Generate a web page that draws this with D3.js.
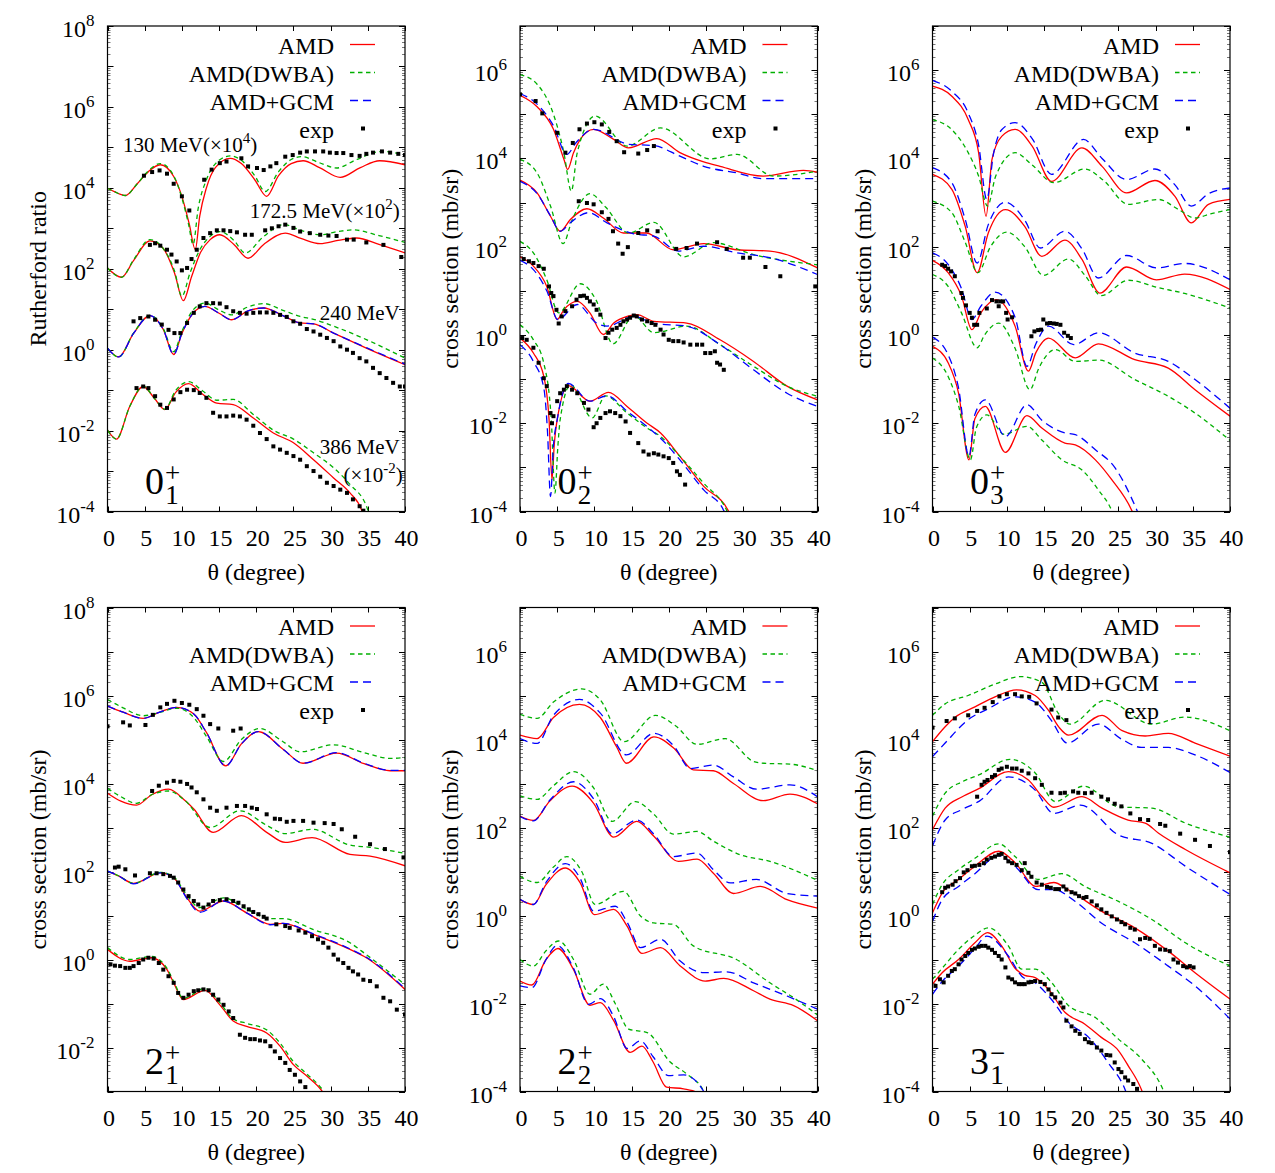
<!DOCTYPE html>
<html lang="en">
<head>
<meta charset="UTF-8">
<title>Inelastic cross sections</title>
<style>
  body, html { margin: 0; padding: 0; background: #fff; }
  svg { display: block; }
  text { font-family: 'Liberation Serif', 'Times New Roman', serif; fill: #000; }
</style>
</head>
<body>
<div id="chart"></div>
<script src="https://d3js.org/d3.v7.min.js"></script>
<script>
// all values are [theta (deg), log10(value)]; sets a..d go top to bottom

// ---- 0_1^+ (Rutherford ratio) ----
const p01_a_amd = [[0,3.99],[1,3.9],[2.4,3.81],[4,4.1],[5.5,4.4],[7.1,4.57],[8.9,4.28],[10,3.79],[11,3.1],[11.8,2.47],[12.4,3.3],[13.3,4.0],[14.5,4.5],[16.5,4.73],[18,4.6],[19.8,4.2],[21.4,3.79],[23,4.3],[24.7,4.6],[26.3,4.67],[28.5,4.5],[31.3,4.26],[34,4.5],[36.6,4.67],[40,4.57]];
const p01_a_dwba = [[0,3.99],[1,3.9],[2.4,3.81],[4,4.1],[5.5,4.42],[7.1,4.6],[8.9,4.3],[10,3.75],[10.9,3.1],[11.5,2.6],[12.2,3.5],[13.3,4.2],[15,4.68],[16.5,4.79],[18,4.68],[19.8,4.3],[21.2,3.91],[23,4.4],[24.7,4.7],[26.1,4.77],[28.5,4.62],[30.8,4.49],[33.5,4.7],[36.9,4.9],[40,4.81]];
const p01_a_exp = [[4.9,4.30],[6.0,4.39],[7.0,4.43],[8.0,4.35],[8.9,4.10],[10.0,3.79],[11.0,3.44],[13.0,4.2],[14.0,4.45],[15.1,4.61],[16.0,4.65],[18.0,4.73],[18.9,4.53],[20.1,4.49],[21.0,4.44],[21.9,4.53],[22.7,4.61],[23.9,4.77],[24.9,4.81],[25.9,4.87],[26.8,4.90],[27.9,4.90],[29.0,4.90],[29.9,4.87],[30.8,4.86],[31.7,4.86],[32.8,4.81],[33.9,4.79],[34.8,4.84],[35.7,4.87],[36.9,4.90],[38.0,4.87],[39.1,4.84],[40,4.81]];

const p01_b_amd = [[0,2.02],[1.9,1.79],[3.5,2.2],[5.7,2.69],[7.5,2.5],[9,1.9],[10.2,1.21],[11.3,1.8],[12.5,2.4],[13.8,2.72],[15.1,2.84],[17,2.6],[18.9,2.26],[21,2.6],[23.9,2.88],[26,2.75],[28.6,2.62],[31,2.7],[33.5,2.76],[36.5,2.6],[40,2.39]];
const p01_b_dwba = [[0,2.02],[1.9,1.79],[3.5,2.22],[5.7,2.72],[7.5,2.5],[9,1.95],[10,1.32],[11.1,1.9],[12.5,2.5],[13.8,2.8],[15.1,2.92],[17,2.7],[18.5,2.39],[21,2.8],[23.7,3.09],[26,2.95],[28.6,2.84],[31,2.92],[33,2.96],[36.5,2.82],[40,2.65]];
const p01_b_exp = [[5.7,2.59],[6.4,2.63],[7.1,2.57],[8.0,2.47],[8.6,2.35],[9.3,2.18],[10.0,1.96],[10.7,2.02],[11.3,2.24],[12.0,2.47],[12.9,2.76],[13.8,2.88],[14.7,2.95],[15.6,2.95],[16.5,2.93],[17.4,2.90],[18.5,2.84],[19.4,2.84],[21.2,2.95],[22.1,3.0],[23.0,3.05],[23.9,3.09],[25.0,3.01],[25.9,2.92],[27.2,2.88],[28.6,2.84],[29.7,2.82],[30.8,2.81],[32.2,2.72],[33.1,2.72],[34.8,2.65],[37.1,2.59],[39.5,2.29]];

const p01_c_amd = [[0,0.04],[1.5,-0.18],[3.5,0.4],[5.7,0.84],[7.5,0.5],[8.9,-0.12],[10,0.4],[11.5,0.9],[13.1,1.07],[15,0.9],[16.7,0.74],[18.8,0.95],[21,1.03],[23.5,0.85],[25.9,0.66],[27.7,0.64],[30.4,0.41],[34.8,0.04],[40,-0.37]];
const p01_c_dwba = [[0,0.04],[1.5,-0.18],[3.5,0.41],[5.7,0.85],[7.5,0.52],[8.9,-0.05],[10,0.45],[11.5,0.98],[13.1,1.15],[15,0.98],[16.7,0.86],[18.8,1.05],[21,1.14],[23.5,0.98],[25.9,0.82],[27.7,0.75],[30.4,0.58],[34.8,0.25],[40,-0.21]];
const p01_c_gcm = [[0,0.04],[1.5,-0.18],[3.5,0.4],[5.7,0.84],[7.5,0.5],[8.9,-0.12],[10,0.4],[11.5,0.9],[13.1,1.07],[15,0.9],[16.7,0.74],[18.8,0.95],[21,1.03],[23.5,0.85],[25.9,0.66],[27.7,0.64],[30.4,0.41],[34.8,0.05],[40,-0.36]];
const p01_c_exp = [[3.5,0.70],[4.4,0.78],[5.5,0.82],[6.4,0.74],[7.3,0.62],[8.2,0.49],[9.0,0.41],[9.8,0.41],[10.7,0.66],[11.6,0.91],[12.4,1.07],[13.3,1.15],[14.2,1.15],[15.1,1.14],[16.0,1.05],[16.9,0.95],[17.8,0.91],[18.7,0.89],[19.6,0.91],[20.5,0.92],[21.4,0.92],[22.3,0.91],[23.2,0.86],[24.1,0.81],[25.0,0.70],[25.9,0.64],[26.8,0.51],[27.7,0.45],[28.6,0.37],[29.5,0.29],[30.4,0.21],[31.3,0.08],[32.2,0.0],[33.0,-0.08],[33.9,-0.21],[34.8,-0.29],[35.7,-0.45],[36.6,-0.58],[37.5,-0.70],[38.4,-0.82],[39.3,-0.91],[40,-0.91]];

const p01_d_amd = [[0,-1.99],[1.2,-2.21],[3,-1.4],[4.8,-0.91],[6.3,-1.2],[7.7,-1.48],[9.2,-1.05],[10.9,-0.84],[12.8,-1.1],[14.7,-1.32],[16.9,-1.36],[19.6,-1.69],[22.3,-2.06],[25.0,-2.30],[27.7,-2.72],[30.4,-3.17],[32.6,-3.54],[34.2,-3.98],[35,-4.5]];
const p01_d_dwba = [[0,-1.99],[1.2,-2.21],[3,-1.4],[4.8,-0.90],[6.3,-1.2],[7.7,-1.47],[9.2,-1.0],[10.9,-0.79],[12.8,-1.02],[14.7,-1.25],[16.9,-1.23],[19.6,-1.6],[22.3,-1.99],[25.0,-2.21],[27.7,-2.55],[30.4,-2.92],[32.6,-3.33],[34.9,-3.91],[35.8,-4.5]];
const p01_d_exp = [[3.9,-0.95],[4.8,-0.91],[5.5,-0.95],[6.4,-1.15],[7.1,-1.36],[8.0,-1.44],[8.9,-1.23],[9.8,-1.05],[10.7,-0.99],[11.6,-1.0],[12.4,-1.07],[13.3,-1.19],[14.2,-1.56],[15.1,-1.65],[16.0,-1.65],[16.9,-1.63],[17.8,-1.65],[18.7,-1.73],[19.6,-1.88],[20.5,-2.06],[21.4,-2.21],[22.3,-2.39],[23.2,-2.47],[24.1,-2.55],[25.0,-2.63],[25.9,-2.72],[26.8,-2.88],[27.7,-3.0],[28.6,-3.14],[29.5,-3.29],[30.4,-3.37],[31.3,-3.46],[32.2,-3.54],[33.0,-3.70],[33.9,-3.87],[34.4,-3.98]];

// ---- 0_2^+ ----
const p02_a_amd = [[0,5.43],[2.3,5.17],[4.5,4.66],[5.9,3.98],[6.4,3.75],[7.2,4.13],[8.1,4.43],[9.9,4.66],[12.6,4.43],[14.6,4.24],[18.4,4.45],[21.5,4.13],[24.7,3.92],[26.9,3.82],[32.7,3.60],[38.1,3.73],[40,3.69]];
const p02_a_dwba = [[0,5.90],[2.3,5.68],[4.5,5.0],[5.9,4.13],[6.9,3.26],[7.7,4.13],[10.1,4.96],[14.4,4.28],[18.9,4.69],[25.6,3.99],[29.2,4.09],[34.1,3.60],[40,3.71]];
const p02_a_gcm = [[0,5.47],[2.3,5.23],[4.5,4.74],[6.3,4.09],[7.5,4.35],[9.9,4.66],[14.6,4.32],[18.0,4.29],[21.5,4.05],[24.7,3.82],[29.2,3.67],[32.7,3.54],[40,3.54]];
const p02_a_exp = [[0,5.45],[2.1,5.30],[3.0,5.02],[5.0,4.58],[6.1,4.13],[7.1,4.35],[8.0,4.66],[9.0,4.79],[10.0,4.82],[11.0,4.77],[12.0,4.60],[13.0,4.39],[14.0,4.14],[15.9,4.11],[17.1,4.19],[18.0,4.28]];

const p02_b_amd = [[0,3.51],[2.3,3.22],[4.1,2.69],[5.4,2.35],[6.8,2.62],[9.0,2.86],[11.2,2.65],[13.9,2.31],[17.0,2.31],[20.6,1.93],[24.7,2.07],[29.2,1.93],[33.6,1.90],[40,1.52]];
const p02_b_dwba = [[0,3.98],[2.3,3.67],[4.1,2.92],[5.8,2.07],[7.0,2.6],[9.4,3.20],[11.5,2.9],[14.6,2.31],[18.0,2.55],[22.0,1.77],[26.0,2.09],[31.4,1.82],[40,1.59]];
const p02_b_gcm = [[0,3.48],[2.3,3.2],[4.1,2.7],[5.4,2.35],[6.8,2.55],[9.2,2.77],[11.7,2.54],[15.3,2.29],[18.0,2.24],[21.3,1.90],[24.7,2.01],[29.2,1.86],[33.6,1.75],[40,1.37]];
const p02_b_exp = [[7.9,3.03],[9.0,2.99],[9.9,2.96],[11.0,2.78],[11.9,2.63],[12.5,2.35],[13.2,2.07],[13.8,1.84],[14.5,1.99],[15.9,2.31],[17.1,2.37],[18.5,2.35],[21.0,1.95],[22.4,1.97],[23.8,2.07],[26.5,2.10],[27.8,1.95],[30.0,1.75],[30.9,1.75],[33.0,1.54],[35.0,1.33],[39.7,1.10]];

const p02_c_amd = [[0,1.77],[1.8,1.56],[3.6,1.10],[5.0,0.35],[5.9,0.57],[7.7,0.76],[9.4,0.50],[11.2,0.01],[12.6,0.27],[14.4,0.42],[15.7,0.46],[18.0,0.31],[22.4,0.27],[26.9,-0.11],[31.4,-0.60],[35.9,-1.16],[40,-1.47]];
const p02_c_dwba = [[0,2.12],[1.8,1.86],[3.6,1.25],[5.2,0.50],[8.1,1.16],[10.2,0.80],[12.5,-0.20],[15.3,0.44],[18.0,0.05],[22.4,0.20],[26.9,-0.22],[31.4,-0.71],[35.9,-1.16],[40,-1.39]];
const p02_c_gcm = [[0,1.69],[1.8,1.48],[3.6,1.0],[5.1,0.35],[7.7,0.69],[10.3,0.27],[11.7,0.20],[15.3,0.42],[18.0,0.26],[22.4,0.20],[26.9,-0.22],[31.4,-0.79],[35.9,-1.32],[40,-1.62]];
const p02_c_exp = [[0.5,1.72],[1.2,1.67],[1.8,1.63],[2.5,1.56],[3.2,1.50],[3.9,1.10],[4.2,0.95],[4.5,0.88],[4.9,0.57],[5.2,0.26],[5.6,0.42],[6.1,0.54],[7.0,0.65],[7.6,0.80],[8.1,0.88],[8.6,0.89],[9.0,0.84],[9.4,0.76],[9.9,0.69],[10.3,0.57],[10.8,0.46],[11.5,-0.07],[11.9,0.05],[12.4,0.12],[13.0,0.16],[13.5,0.23],[13.9,0.31],[14.4,0.35],[14.8,0.39],[15.3,0.44],[15.7,0.42],[16.4,0.35],[17.1,0.31],[17.7,0.27],[18.2,0.23],[18.9,0.12],[19.3,0.01],[20.0,-0.11],[20.6,-0.14],[21.3,-0.14],[22.0,-0.17],[22.9,-0.22],[23.8,-0.22],[24.5,-0.22],[24.9,-0.41],[25.6,-0.41],[26.2,-0.37],[26.5,-0.63],[26.9,-0.67],[27.4,-0.79]];

const p02_d_amd = [[0,-0.07],[1.8,-0.41],[3.2,-0.94],[3.9,-1.9],[4.3,-3.28],[4.6,-2.5],[5.0,-1.92],[6.5,-1.15],[9.4,-1.50],[11.9,-1.30],[14.4,-1.62],[17.1,-2.00],[18.9,-2.22],[21.5,-2.75],[24.7,-3.43],[28.0,-3.98],[29,-4.4]];
const p02_d_dwba = [[0,0.23],[1.8,-0.11],[3.2,-0.64],[4.2,-1.9],[4.7,-3.58],[5.1,-2.5],[5.4,-1.92],[6.8,-1.13],[9.7,-1.88],[11.5,-1.38],[14.4,-1.77],[17.1,-2.11],[18.9,-2.30],[21.5,-2.75],[24.7,-3.36],[27.8,-3.98],[28.8,-4.4]];
const p02_d_gcm = [[0,-0.22],[1.8,-0.60],[3.2,-1.2],[3.7,-2.2],[4.1,-3.66],[4.5,-2.5],[5.0,-1.92],[6.5,-1.10],[9.4,-1.50],[11.7,-1.38],[14.4,-1.73],[17.1,-2.08],[18.9,-2.34],[21.5,-2.83],[24.7,-3.51],[27.4,-3.98],[28.4,-4.4]];
const p02_d_exp = [[0.3,-0.07],[0.9,-0.11],[1.8,-0.29],[2.5,-0.63],[3.2,-0.98],[3.6,-1.16],[4.1,-1.77],[4.3,-2.0],[4.5,-1.84],[5.0,-1.50],[5.4,-1.32],[5.9,-1.24],[6.3,-1.16],[7.0,-1.24],[7.7,-1.32],[8.6,-1.54],[9.2,-1.69],[9.9,-2.09],[10.3,-2.0],[10.8,-1.88],[11.5,-1.77],[12.1,-1.73],[12.8,-1.77],[13.5,-1.84],[14.2,-1.96],[14.8,-2.22],[15.9,-2.45],[16.6,-2.64],[17.3,-2.71],[18.0,-2.68],[18.6,-2.71],[19.3,-2.75],[20.0,-2.79],[20.6,-2.90],[21.1,-3.09],[21.5,-3.17],[22.2,-3.39]];

// ---- 0_3^+ ----
const p03_a_amd = [[0,5.64],[2.6,5.41],[4.8,4.88],[6.2,4.13],[7.2,2.69],[8.0,3.98],[9.3,4.50],[11.1,4.66],[13.4,4.28],[16.0,3.48],[20.1,4.24],[22.8,3.82],[26.1,3.22],[29.9,3.50],[32.6,3.14],[34.8,2.54],[37.1,2.96],[40,3.07]];
const p03_a_dwba = [[0,4.88],[2.6,4.65],[4.8,4.13],[6.2,3.6],[7.4,2.92],[8.5,3.6],[11.1,4.13],[13.4,3.85],[16.3,3.45],[20.5,3.76],[23,3.5],[26.3,2.96],[30.4,3.07],[33,2.85],[35.3,2.65],[37.5,2.75],[40,2.84]];
const p03_a_gcm = [[0,5.77],[2.6,5.52],[4.8,5.03],[6.2,4.3],[7.3,3.07],[8.2,4.1],[9.3,4.65],[11.1,4.81],[13.4,4.45],[16.0,3.64],[20.3,4.43],[22.8,4.0],[26.1,3.52],[29.9,3.76],[32.6,3.4],[34.8,2.92],[37.1,3.2],[40,3.33]];

const p03_b_amd = [[0,3.64],[2.6,3.30],[4.4,2.46],[6.0,1.41],[7.5,2.31],[9.8,2.84],[12.4,2.46],[14.7,1.78],[17.8,2.15],[20.1,1.71],[22.5,0.95],[26.1,1.54],[30.1,1.25],[33.9,1.38],[40,1.03]];
const p03_b_dwba = [[0,3.03],[2.6,2.77],[4.4,2.1],[6.1,1.41],[7.8,2.0],[10.0,2.33],[12.4,2.0],[14.9,1.35],[18.3,1.72],[20.5,1.35],[22.7,0.89],[26.3,1.24],[30.4,1.07],[33.9,0.94],[40,0.61]];
const p03_b_gcm = [[0,3.79],[2.6,3.45],[4.4,2.62],[6.0,1.63],[7.5,2.5],[9.8,3.01],[12.4,2.6],[14.5,1.97],[17.8,2.35],[20.1,1.95],[22.3,1.29],[26.1,1.80],[30.1,1.52],[33.9,1.62],[40,1.25]];

const p03_c_amd = [[0,1.69],[2.1,1.41],[3.9,0.88],[5.3,0.12],[6.5,0.5],[8.6,0.80],[11.1,0.2],[12.9,-0.82],[13.9,-0.4],[15.6,-0.07],[19.2,-0.52],[22.3,-0.20],[27.2,-0.56],[31.7,-0.75],[35.3,-1.24],[40,-1.84]];
const p03_c_dwba = [[0,1.37],[2.1,1.1],[3.9,0.5],[6.0,-0.29],[7.0,0.0],[8.9,0.27],[11.1,-0.3],[13.1,-1.24],[14.3,-0.75],[16.5,-0.33],[19.2,-0.6],[22.3,-0.57],[27.2,-1.01],[31.7,-1.39],[35.3,-1.77],[40,-2.39]];
const p03_c_gcm = [[0,1.86],[2.1,1.6],[3.9,1.05],[5.3,0.35],[6.5,0.65],[8.4,0.97],[11.1,0.4],[12.7,-0.71],[13.9,-0.2],[15.6,0.20],[19.0,-0.22],[22.3,0.05],[27.2,-0.41],[31.7,-0.60],[35.3,-1.01],[40,-1.66]];
const p03_c_exp = [[1.3,1.59],[1.7,1.56],[2.1,1.50],[2.5,1.44],[3.0,1.33],[3.9,0.95],[4.1,0.84],[4.5,0.67],[5.0,0.50],[5.3,0.39],[5.6,0.23],[6.0,0.23],[6.3,0.50],[7.3,0.60],[8.0,0.79],[8.6,0.76],[8.9,0.65],[9.1,0.76],[9.5,0.76],[9.9,0.50],[10.1,0.35],[10.7,0.40],[13.3,-0.03],[13.7,0.08],[14.2,0.11],[14.6,0.12],[14.9,0.35],[15.4,0.26],[15.8,0.27],[16.3,0.26],[16.7,0.25],[17.2,0.23],[17.7,0.05],[18.2,-0.02],[18.6,-0.07]];

const p03_d_amd = [[0,-0.26],[2.1,-0.63],[3.5,-1.32],[4.9,-2.83],[5.7,-1.9],[7.1,-1.62],[9.8,-2.66],[12.7,-1.83],[14.7,-2.11],[17.8,-2.45],[19.2,-2.49],[21.9,-2.83],[24.1,-3.28],[26.8,-3.98],[27.8,-4.4]];
const p03_d_dwba = [[0,-0.52],[2.1,-0.94],[3.5,-1.6],[5.1,-2.83],[5.9,-2.1],[7.3,-1.81],[9.6,-2.25],[12.7,-2.07],[14.7,-2.38],[17.4,-2.83],[20.1,-3.06],[22.3,-3.51],[24.1,-3.98],[25,-4.4]];
const p03_d_gcm = [[0,-0.05],[2.1,-0.45],[3.5,-1.2],[4.9,-2.75],[5.7,-1.8],[7.1,-1.47],[9.8,-2.30],[12.7,-1.58],[14.7,-1.93],[17.8,-2.22],[19.2,-2.26],[21.9,-2.6],[24.5,-3.0],[27.5,-3.98],[28.5,-4.4]];

// ---- 2_1^+ ----
const p21_a_amd = [[0,5.76],[2.1,5.62],[4.8,5.48],[7.1,5.63],[9.3,5.73],[11.6,5.58],[13.3,5.16],[15.9,4.40],[18.0,4.9],[20.3,5.18],[23.6,4.78],[26.3,4.46],[30.8,4.69],[34.5,4.45],[38.0,4.29],[40,4.29]];
const p21_a_dwba = [[0,5.91],[2.1,5.72],[4.8,5.54],[7.1,5.62],[9.3,5.71],[11.6,5.5],[13.3,5.07],[15.6,4.50],[18.0,5.0],[20.5,5.25],[23.6,4.95],[25.9,4.72],[30.4,4.88],[34.5,4.7],[38.0,4.57],[40,4.59]];
const p21_a_gcm = [[0,5.76],[2.1,5.62],[4.8,5.48],[7.1,5.63],[9.3,5.73],[11.6,5.58],[13.3,5.16],[15.9,4.40],[18.0,4.9],[20.3,5.18],[23.6,4.78],[26.3,4.46],[30.8,4.70],[34.5,4.46],[38.0,4.30],[40,4.30]];
const p21_a_exp = [[0,5.30],[2.1,5.39],[3.0,5.32],[5.1,5.33],[6.1,5.56],[7.1,5.73],[8.0,5.81],[9.0,5.88],[10.0,5.83],[11.0,5.79],[12.0,5.69],[12.9,5.54],[13.8,5.35],[14.9,5.25],[16.9,5.20],[17.9,5.25]];

const p21_b_amd = [[0,3.78],[1.8,3.6],[3.9,3.51],[6,3.75],[8.2,3.87],[10.5,3.6],[11.6,3.42],[14.2,2.89],[18.0,3.27],[21.4,2.89],[23.9,2.66],[27.5,2.77],[32.6,2.39],[35.3,2.35],[40,2.13]];
const p21_b_dwba = [[0,3.89],[1.8,3.7],[3.9,3.55],[6,3.75],[8.2,3.83],[10.5,3.6],[13.8,3.00],[17.8,3.38],[21.4,3.05],[23.9,2.86],[27.5,2.96],[32.6,2.60],[35.3,2.55],[40,2.41]];
const p21_b_exp = [[6.0,3.83],[6.9,3.95],[8.0,4.02],[8.9,4.06],[9.8,4.04],[10.7,3.99],[11.3,3.91],[12.0,3.80],[12.9,3.64],[13.8,3.45],[14.7,3.38],[16.0,3.45],[17.4,3.49],[18.5,3.49],[19.4,3.45],[20.1,3.42],[21.4,3.30],[22.5,3.20],[23.2,3.19],[24.1,3.13],[25.0,3.15],[26.3,3.15],[27.7,3.11],[29.2,3.10],[30.4,3.08],[31.5,2.96],[33.3,2.79],[35.3,2.62],[37.3,2.51],[39.8,2.32]];

const p21_c_amd = [[0,2.01],[1.5,1.9],[3.5,1.73],[7.1,1.97],[8.9,1.86],[10.7,1.4],[12.4,1.10],[15.6,1.33],[18.7,1.06],[21.9,0.80],[23.6,0.82],[27.7,0.57],[32.6,0.23],[34.8,0.04],[40,-0.68]];
const p21_c_dwba = [[0,2.01],[1.5,1.9],[3.5,1.73],[7.1,1.98],[8.9,1.88],[10.7,1.45],[12.4,1.18],[15.6,1.40],[18.7,1.14],[21.9,0.93],[23.6,0.93],[27.7,0.68],[32.6,0.38],[34.8,0.11],[40,-0.57]];
const p21_c_gcm = [[0,2.01],[1.5,1.9],[3.5,1.72],[7.1,1.97],[8.9,1.86],[10.7,1.38],[12.4,1.07],[15.6,1.33],[18.7,1.06],[21.9,0.79],[23.6,0.82],[27.7,0.58],[32.6,0.24],[34.8,0.05],[40,-0.66]];
const p21_c_exp = [[1.0,2.09],[1.5,2.11],[2.4,2.05],[3.7,1.91],[5.7,1.96],[6.6,1.96],[7.5,1.94],[8.4,1.90],[8.9,1.86],[9.5,1.75],[10.2,1.59],[10.9,1.44],[11.6,1.33],[12.2,1.25],[12.9,1.18],[13.6,1.25],[14.2,1.33],[15.1,1.35],[16.0,1.37],[16.9,1.33],[17.6,1.29],[18.3,1.21],[19.0,1.14],[19.6,1.08],[20.3,1.03],[21.0,0.97],[21.4,0.93],[22.7,0.80],[23.9,0.76],[24.5,0.72],[25.7,0.66],[26.6,0.61],[27.5,0.53],[28.3,0.46],[29.0,0.38],[29.7,0.27],[30.4,0.11],[31.0,0.0],[31.7,-0.08],[32.4,-0.19],[33.0,-0.27],[33.7,-0.34],[34.4,-0.46],[35.3,-0.49],[36.2,-0.61],[37.1,-0.87],[38.0,-0.95],[38.9,-1.14],[40,-1.25]];

const p21_d_amd = [[0,0.23],[3.0,-0.04],[5.9,0.04],[8.0,-0.23],[8.9,-0.53],[10.2,-0.91],[13.1,-0.70],[15.1,-1.03],[16.9,-1.40],[18.7,-1.52],[21.4,-1.67],[23.2,-1.97],[25.0,-2.39],[26.8,-2.65],[28.8,-2.98],[30,-3.3]];
const p21_d_dwba = [[0,0.27],[3.0,0.0],[5.9,0.07],[8.0,-0.2],[8.9,-0.5],[10.2,-0.88],[13.1,-0.66],[15.1,-0.98],[16.9,-1.35],[18.7,-1.45],[21.4,-1.60],[23.2,-1.90],[25.0,-2.32],[26.8,-2.6],[29.0,-2.98],[30.2,-3.3]];
const p21_d_exp = [[0.4,-0.11],[1.0,-0.14],[1.7,-0.15],[2.4,-0.19],[3.0,-0.19],[3.5,-0.15],[4.2,-0.08],[4.8,0.0],[5.5,0.04],[6.2,0.02],[6.9,-0.08],[7.5,-0.23],[8.2,-0.38],[8.9,-0.53],[9.5,-0.76],[10.2,-0.87],[10.9,-0.80],[11.6,-0.72],[12.2,-0.70],[12.9,-0.68],[13.6,-0.70],[14.2,-0.80],[14.9,-0.91],[15.6,-1.03],[16.3,-1.18],[16.9,-1.33],[17.8,-1.71],[18.5,-1.78],[19.2,-1.81],[19.8,-1.81],[20.5,-1.84],[21.2,-1.86],[21.9,-1.97],[22.5,-2.09],[23.2,-2.24],[23.9,-2.35],[24.5,-2.51],[25.2,-2.62],[25.9,-2.77],[26.6,-2.90]];

// ---- 2_2^+ (no data) ----
const p22_a_amd = [[0,4.10],[2.3,4.02],[4.5,4.5],[8.0,4.80],[10.8,4.5],[13.0,3.83],[14.3,3.46],[18.0,4.06],[20.7,3.8],[23.3,3.31],[26.0,3.29],[28.7,3.0],[32.7,2.61],[36.3,2.76],[40,2.54]];
const p22_a_dwba = [[0,4.57],[2.3,4.48],[4.5,4.85],[8.3,5.15],[10.8,4.9],[14.0,3.95],[18.2,4.55],[21.0,4.3],[23.8,3.89],[27.6,4.02],[31.4,3.5],[32.8,3.46],[36.3,3.44],[40,3.29]];
const p22_a_gcm = [[0,4.02],[2.3,3.91],[4.5,4.55],[8.0,4.91],[10.8,4.6],[14.3,3.65],[18.0,4.14],[20.7,3.85],[22.9,3.34],[26.0,3.42],[28.7,3.15],[31.8,2.87],[36.3,2.97],[40,2.70]];

const p22_b_amd = [[0,2.26],[1.8,2.16],[4.0,2.6],[7.0,2.94],[9.9,2.55],[12.6,1.78],[15.7,2.14],[18.0,1.8],[21.3,1.23],[23.8,1.28],[26.0,0.96],[28.7,0.50],[32.3,0.66],[35.9,0.36],[40,0.17]];
const p22_b_dwba = [[0,2.72],[2.3,2.64],[4.5,2.95],[7.2,3.27],[9.9,2.9],[12.4,2.14],[15.5,2.59],[18.0,2.3],[20.6,1.85],[23.8,1.91],[26.0,1.69],[29.6,1.38],[33.6,1.23],[40,0.80]];
const p22_b_gcm = [[0,2.25],[1.8,2.15],[4.0,2.62],[7.2,3.04],[9.9,2.65],[12.4,1.86],[15.7,2.17],[18.0,1.85],[20.6,1.34],[23.8,1.42],[26.0,1.04],[28.3,0.74],[31.8,0.82],[35.9,0.50],[40,0.44]];

const p22_c_amd = [[0,0.36],[1.8,0.25],[3.5,0.7],[6.1,1.08],[8.1,0.74],[10.0,0.02],[12.6,0.14],[14.4,-0.24],[16.4,-0.86],[18.9,-0.73],[21.5,-1.14],[24.9,-1.49],[27.4,-1.43],[31.4,-1.71],[33.6,-1.90],[36.8,-2.05],[40,-2.39]];
const p22_c_dwba = [[0,0.89],[2.3,0.75],[4.5,1.1],[6.3,1.34],[8.3,1.0],[10.1,0.25],[13.9,0.55],[16.2,-0.01],[18.0,-0.17],[20.6,-0.2],[23.3,-0.69],[29.1,-1.00],[33.6,-1.53],[36.8,-1.87],[40,-2.26]];
const p22_c_gcm = [[0,0.37],[1.8,0.25],[3.5,0.75],[6.1,1.18],[8.1,0.84],[9.9,0.10],[12.8,0.21],[14.4,-0.15],[16.2,-0.73],[18.9,-0.54],[21.5,-1.03],[24.7,-1.30],[27.8,-1.28],[31.4,-1.53],[35.9,-1.83],[40,-2.13]];

const p22_d_amd = [[0,-1.49],[1.6,-1.58],[3.5,-1.0],[5.1,-0.75],[7.2,-1.23],[9.4,-2.04],[10.8,-1.98],[12.6,-2.39],[14.8,-3.11],[16.4,-2.97],[17.9,-3.33],[19.7,-3.90],[22.0,-3.94],[23.8,-4.02],[25,-4.4]];
const p22_d_dwba = [[0,-1.00],[1.8,-1.15],[3.5,-0.8],[5.2,-0.58],[7.2,-1.0],[9.4,-1.79],[11.2,-1.56],[12.8,-2.0],[14.6,-2.58],[17.1,-2.66],[20.2,-3.33],[22.4,-3.60],[24.7,-4.0],[25.5,-4.4]];
const p22_d_gcm = [[0,-1.60],[1.6,-1.64],[3.5,-1.0],[5.0,-0.68],[7.2,-1.2],[9.2,-2.02],[10.8,-1.89],[12.6,-2.3],[14.4,-3.02],[16.2,-2.85],[17.9,-3.21],[20.0,-3.64],[22.0,-3.62],[24.7,-4.0],[25.6,-4.4]];

// ---- 3_1^- ----
const p31_a_amd = [[0,3.95],[1.7,4.29],[3.0,4.5],[5.7,4.74],[8.4,4.97],[11.3,5.13],[13.8,5.0],[15.6,4.66],[17.0,4.28],[18.3,4.10],[22.8,4.55],[25.5,4.2],[28.6,4.08],[31.7,4.14],[35.3,3.92],[40,3.62]];
const p31_a_dwba = [[0,4.55],[1.7,4.81],[4.8,5.0],[8.4,5.26],[11.8,5.43],[14.7,5.30],[16.9,4.6],[18.5,4.35],[23.2,4.89],[29.5,4.35],[33.9,4.51],[40,4.20]];
const p31_a_gcm = [[0,3.61],[1.7,3.92],[4.8,4.45],[7.5,4.7],[11.1,4.97],[13.8,4.85],[16.0,4.43],[18.1,3.92],[22.3,4.35],[25.5,4.0],[28.1,3.82],[31.7,3.82],[35.3,3.65],[40,3.25]];
const p31_a_exp = [[0,4.27],[1.9,4.42],[3.0,4.48],[4.8,4.55],[6.0,4.65],[7.0,4.72],[8.1,4.85],[9.0,4.98],[10.0,5.03],[11.1,5.03],[12.0,4.98],[13.0,4.97],[14.0,4.82],[16.0,4.68],[16.9,4.50],[18.0,4.44]];

const p31_b_amd = [[0,1.95],[1.7,2.44],[4.0,2.70],[6.3,2.89],[10.2,3.27],[12.9,3.08],[14.7,2.71],[16.3,2.46],[20.1,2.70],[22.8,2.44],[26.3,2.17],[28.6,2.10],[30.4,1.87],[34.0,1.50],[40,0.97]];
const p31_b_dwba = [[0,2.26],[1.7,2.78],[4.0,3.04],[6.3,3.2],[10.4,3.55],[13.8,3.24],[16.5,2.59],[20.3,2.94],[25.0,2.47],[29.5,2.44],[34.0,2.10],[40,1.78]];
const p31_b_gcm = [[0,1.58],[1.7,2.17],[4.0,2.41],[6.3,2.6],[10.2,3.15],[13.8,2.85],[16.3,2.32],[19.9,2.51],[25.0,1.83],[29.5,1.64],[34.0,1.12],[40,0.48]];
const p31_b_exp = [[6.0,2.70],[6.6,2.97],[7.0,3.04],[7.4,3.08],[8.0,3.15],[8.4,3.19],[8.9,3.31],[9.3,3.34],[10.0,3.38],[10.7,3.34],[11.3,3.34],[12.0,3.29],[12.9,3.23],[13.8,3.12],[14.7,2.97],[16.0,2.79],[17.2,2.78],[17.8,2.79],[18.9,2.82],[19.6,2.79],[20.5,2.78],[21.4,2.79],[22.7,2.70],[23.6,2.64],[24.5,2.54],[25.4,2.48],[26.6,2.32],[27.9,2.19],[29.0,2.17],[30.6,2.08],[31.3,2.04],[33.3,1.86],[35.3,1.72],[37.3,1.58],[40,1.44]];

const p31_c_amd = [[0,0.06],[1.3,0.51],[3.5,0.82],[5.7,1.12],[8.9,1.46],[11.1,1.2],[13.9,0.66],[16.3,0.75],[18.2,0.59],[22.7,0.1],[27.2,-0.28],[31.7,-0.81],[35.3,-1.30],[40,-1.90]];
const p31_c_dwba = [[0,0.25],[1.3,0.70],[3.5,1.04],[5.7,1.3],[8.9,1.63],[11.1,1.34],[14.2,0.82],[17.4,0.95],[20.5,0.66],[25.0,0.32],[29.5,-0.09],[34.0,-0.62],[40,-1.15]];
const p31_c_gcm = [[0,-0.13],[1.3,0.36],[3.5,0.66],[5.7,0.95],[8.9,1.36],[11.1,1.12],[14.2,0.59],[16.3,0.59],[19.2,0.32],[22.7,-0.17],[27.2,-0.62],[31.7,-1.15],[35.3,-1.60],[40,-2.35]];
const p31_c_exp = [[1.3,0.53],[1.7,0.63],[2.1,0.66],[2.7,0.70],[3.1,0.78],[3.7,0.85],[4.2,0.98],[4.7,1.03],[5.3,1.12],[5.7,1.13],[6.3,1.15],[6.9,1.19],[7.3,1.27],[7.9,1.31],[8.4,1.34],[8.9,1.38],[9.3,1.40],[9.8,1.31],[10.2,1.23],[10.7,1.19],[11.3,1.15],[12.0,1.03],[12.4,1.19],[12.9,0.97],[13.3,0.88],[14.0,0.75],[14.7,0.70],[15.4,0.65],[15.9,0.63],[16.5,0.60],[17.0,0.60],[17.6,0.66],[18.0,0.59],[18.7,0.53],[19.2,0.50],[19.7,0.44],[20.3,0.40],[20.7,0.42],[21.4,0.32],[22.1,0.23],[22.7,0.14],[23.4,0.06],[24.1,-0.02],[24.8,-0.09],[25.4,-0.15],[25.9,-0.20],[26.6,-0.28],[27.2,-0.32],[27.9,-0.54],[28.6,-0.51],[29.2,-0.53],[29.9,-0.69],[30.6,-0.77],[31.3,-0.78],[31.9,-0.81],[32.4,-1.00],[33.0,-1.07],[33.7,-1.15],[34.2,-1.18],[34.6,-1.15],[35.1,-1.18]];

const p31_d_amd = [[0,-1.56],[1.3,-1.30],[3.5,-1.0],[5.7,-0.62],[7.4,-0.39],[9.3,-0.69],[11.1,-1.2],[12.4,-1.36],[13.8,-1.41],[15.6,-1.68],[17.8,-2.20],[20.5,-2.47],[22.7,-2.77],[25.0,-3.07],[26.3,-3.41],[28.1,-3.96],[29,-4.4]];
const p31_d_dwba = [[0,-1.45],[1.3,-1.2],[3.5,-0.77],[5.7,-0.45],[7.5,-0.28],[10.2,-0.69],[12.0,-1.22],[13.8,-1.22],[16.0,-1.52],[18.3,-2.05],[21.9,-2.32],[25.0,-2.81],[28.1,-3.26],[31.0,-3.96],[32,-4.4]];
const p31_d_gcm = [[0,-1.79],[1.3,-1.5],[3.5,-1.15],[5.7,-0.75],[7.3,-0.47],[10.2,-0.92],[12.0,-1.38],[13.8,-1.53],[16.0,-1.91],[18.3,-2.43],[21.0,-2.77],[23.6,-3.34],[25.9,-3.96],[26.8,-4.4]];
const p31_d_exp = [[0.4,-1.60],[1.0,-1.45],[1.5,-1.52],[2.1,-1.37],[2.6,-1.26],[3.0,-1.22],[3.5,-1.11],[3.9,-1.00],[4.4,-0.92],[4.8,-0.85],[5.3,-0.78],[5.7,-0.75],[6.2,-0.71],[6.6,-0.69],[7.1,-0.69],[7.5,-0.73],[8.0,-0.78],[8.4,-0.85],[8.9,-0.92],[9.3,-1.00],[9.8,-1.18],[10.2,-1.41],[10.7,-1.45],[11.1,-1.52],[11.6,-1.56],[12.0,-1.56],[12.4,-1.56],[12.9,-1.52],[13.3,-1.51],[13.8,-1.49],[14.5,-1.51],[15.1,-1.56],[15.6,-1.68],[16.0,-1.79],[16.5,-1.86],[17.2,-1.98],[17.6,-2.09],[18.0,-2.39],[18.7,-2.52],[19.2,-2.62],[19.8,-2.69],[20.5,-2.81],[21.0,-2.88],[21.4,-2.90],[22.1,-3.00],[22.7,-3.07],[23.4,-3.17],[23.9,-3.18],[24.5,-3.34],[25.0,-3.49],[25.4,-3.56],[25.9,-3.68],[26.3,-3.75],[27.0,-3.83],[27.5,-3.94]];

const thetaTicks = [0, 5, 10, 15, 20, 25, 30, 35, 40];
const legendNames = { amd: "AMD", dwba: "AMD(DWBA)", gcm: "AMD+GCM", exp: "exp" };

const panels = [
    { col: 0, row: 0, yDomain: [-4, 8], ytitle: "Rutherford ratio", state: ["0", "1", "+"], hasExp: true,
      sets: [
        { amd: p01_a_amd, dwba: p01_a_dwba, exp: p01_a_exp },
        { amd: p01_b_amd, dwba: p01_b_dwba, exp: p01_b_exp },
        { amd: p01_c_amd, dwba: p01_c_dwba, gcm: p01_c_gcm, exp: p01_c_exp },
        { amd: p01_d_amd, dwba: p01_d_dwba, exp: p01_d_exp }] },
    { col: 1, row: 0, yDomain: [-4, 7], ytitle: "cross section (mb/sr)", state: ["0", "2", "+"], hasExp: true,
      sets: [
        { amd: p02_a_amd, dwba: p02_a_dwba, gcm: p02_a_gcm, exp: p02_a_exp },
        { amd: p02_b_amd, dwba: p02_b_dwba, gcm: p02_b_gcm, exp: p02_b_exp },
        { amd: p02_c_amd, dwba: p02_c_dwba, gcm: p02_c_gcm, exp: p02_c_exp },
        { amd: p02_d_amd, dwba: p02_d_dwba, gcm: p02_d_gcm, exp: p02_d_exp }] },
    { col: 2, row: 0, yDomain: [-4, 7], ytitle: "cross section (mb/sr)", state: ["0", "3", "+"], hasExp: true,
      sets: [
        { amd: p03_a_amd, dwba: p03_a_dwba, gcm: p03_a_gcm },
        { amd: p03_b_amd, dwba: p03_b_dwba, gcm: p03_b_gcm },
        { amd: p03_c_amd, dwba: p03_c_dwba, gcm: p03_c_gcm, exp: p03_c_exp },
        { amd: p03_d_amd, dwba: p03_d_dwba, gcm: p03_d_gcm }] },
    { col: 0, row: 1, yDomain: [-3, 8], ytitle: "cross section (mb/sr)", state: ["2", "1", "+"], hasExp: true,
      sets: [
        { amd: p21_a_amd, dwba: p21_a_dwba, gcm: p21_a_gcm, exp: p21_a_exp },
        { amd: p21_b_amd, dwba: p21_b_dwba, exp: p21_b_exp },
        { amd: p21_c_amd, dwba: p21_c_dwba, gcm: p21_c_gcm, exp: p21_c_exp },
        { amd: p21_d_amd, dwba: p21_d_dwba, exp: p21_d_exp }] },
    { col: 1, row: 1, yDomain: [-4, 7], ytitle: "cross section (mb/sr)", state: ["2", "2", "+"], hasExp: false,
      sets: [
        { amd: p22_a_amd, dwba: p22_a_dwba, gcm: p22_a_gcm },
        { amd: p22_b_amd, dwba: p22_b_dwba, gcm: p22_b_gcm },
        { amd: p22_c_amd, dwba: p22_c_dwba, gcm: p22_c_gcm },
        { amd: p22_d_amd, dwba: p22_d_dwba, gcm: p22_d_gcm }] },
    { col: 2, row: 1, yDomain: [-4, 7], ytitle: "cross section (mb/sr)", state: ["3", "1", "\u2212"], hasExp: true,
      sets: [
        { amd: p31_a_amd, dwba: p31_a_dwba, gcm: p31_a_gcm, exp: p31_a_exp },
        { amd: p31_b_amd, dwba: p31_b_dwba, gcm: p31_b_gcm, exp: p31_b_exp },
        { amd: p31_c_amd, dwba: p31_c_dwba, gcm: p31_c_gcm, exp: p31_c_exp },
        { amd: p31_d_amd, dwba: p31_d_dwba, gcm: p31_d_gcm, exp: p31_d_exp }] }
];

// energy notes in the 0_1^+ panel: [text, superscript, anchor theta, anchor log, text-anchor]
const energyNotes = [
    ["130 MeV(\u00d710", "4", 2.1, 4.88, "start"],
    ["172.5 MeV(\u00d710", "2", 39.3, 3.25, "end"],
    ["240 MeV", null, 39.3, 0.73, "end"],
    ["386 MeV", null, 39.3, -2.57, "end"],
    ["(\u00d710", "-2", 39.7, -3.28, "end"]
];

const styles = {
    amd: { color: "#ff0000", dash: null },
    dwba: { color: "#00b000", dash: "4.5,3.5" },
    gcm: { color: "#0000ff", dash: "8,5" }
};

const svg = d3.select("#chart").append("svg")
    .attr("width", 1275).attr("height", 1173);

const colX = [[107.5, 405], [520, 817.5], [932.5, 1230]];
const rowY = [[26, 511.5], [607.5, 1091.5]];

panels.forEach((p, k) => {
    const [x0, x1] = colX[p.col];
    const [y0, y1] = rowY[p.row];
    const x = d3.scaleLinear().domain([0, 40]).range([x0, x1]);
    const y = d3.scaleLinear().domain(p.yDomain).range([y1, y0]);
    const g = svg.append("g");

    g.append("clipPath").attr("id", "clip" + k)
        .append("rect").attr("x", x0).attr("y", y0).attr("width", x1 - x0).attr("height", y1 - y0);

    // y ticks: every decade plus minor ticks, labels on even powers
    const ticks = g.append("g").attr("stroke", "#000").attr("stroke-width", 1);
    for (let e = p.yDomain[0]; e <= p.yDomain[1]; e++) {
        const yy = Math.round(y(e)) + 0.5;
        ticks.append("line").attr("x1", x0).attr("x2", x0 + 6).attr("y1", yy).attr("y2", yy);
        ticks.append("line").attr("x1", x1).attr("x2", x1 - 6).attr("y1", yy).attr("y2", yy);
        for (let m = 2; m < 10; m++) {
            const v = e + Math.log10(m);
            if (v >= p.yDomain[1]) break;
            const ym = Math.round(y(v)) + 0.5;
            ticks.append("line").attr("x1", x0).attr("x2", x0 + 3).attr("y1", ym).attr("y2", ym).attr("stroke", "#777");
            ticks.append("line").attr("x1", x1).attr("x2", x1 - 3).attr("y1", ym).attr("y2", ym).attr("stroke", "#777");
        }
        if (e % 2 === 0) {
            const t = g.append("text").attr("x", x0 - 13).attr("y", y(e) + 11)
                .attr("text-anchor", "end").attr("font-size", 24).text("10");
            t.append("tspan").attr("dy", -11).attr("font-size", 17).text(e);
        }
    }
    thetaTicks.forEach(t => {
        const xx = Math.round(x(t)) + 0.5;
        ticks.append("line").attr("x1", xx).attr("x2", xx).attr("y1", y1).attr("y2", y1 - 5);
        ticks.append("line").attr("x1", xx).attr("x2", xx).attr("y1", y0).attr("y2", y0 + 5);
        g.append("text").attr("x", x(t) + 1.5).attr("y", y1 + 34)
            .attr("text-anchor", "middle").attr("font-size", 24).text(t);
    });

    g.append("text").attr("x", (x0 + x1) / 2).attr("y", y1 + 68)
        .attr("text-anchor", "middle").attr("font-size", 24).text("\u03b8 (degree)");
    g.append("text")
        .attr("transform", `translate(${x0 - 70},${(y0 + y1) / 2}) rotate(-90)`)
        .attr("dy", "0.35em").attr("text-anchor", "middle").attr("font-size", 24)
        .text(p.ytitle);

    // curves
    const line = d3.line().x(d => x(d[0])).y(d => y(d[1])).curve(d3.curveMonotoneX);
    const plot = g.append("g").attr("clip-path", `url(#clip${k})`);
    ["amd", "dwba", "gcm"].forEach(key => {
        p.sets.forEach(s => {
            if (!s[key]) return;
            plot.append("path").datum(s[key])
                .attr("d", line).attr("fill", "none")
                .attr("stroke", styles[key].color).attr("stroke-width", 1.3)
                .attr("stroke-dasharray", styles[key].dash);
        });
    });
    p.sets.forEach(s => {
        if (!s.exp) return;
        plot.selectAll(null).data(s.exp).enter().append("rect")
            .attr("x", d => x(d[0]) - 2).attr("y", d => y(d[1]) - 2)
            .attr("width", 4).attr("height", 4).attr("fill", "#000");
    });

    // frame
    g.append("rect").attr("x", x0).attr("y", y0).attr("width", x1 - x0).attr("height", y1 - y0)
        .attr("fill", "none").attr("stroke", "#000").attr("stroke-width", 1.2);

    // legend
    const keys = p.hasExp ? ["amd", "dwba", "gcm", "exp"] : ["amd", "dwba", "gcm"];
    keys.forEach((key, i) => {
        const cy = y0 + 18.5 + i * 28;
        g.append("text").attr("x", x1 - 71).attr("y", cy + 9)
            .attr("text-anchor", "end").attr("font-size", 24)
            .text(legendNames[key]);
        if (key === "exp") {
            g.append("rect").attr("x", x1 - 44).attr("y", cy - 2).attr("width", 4).attr("height", 4).attr("fill", "#000");
        } else {
            g.append("line").attr("x1", x1 - 55).attr("x2", x1 - 30).attr("y1", cy).attr("y2", cy)
                .attr("stroke", styles[key].color).attr("stroke-width", 1.3)
                .attr("stroke-dasharray", styles[key].dash);
        }
    });

    // state label: big number with stacked parity superscript and index subscript
    const st = g.append("text").attr("x", x0 + 37.5).attr("y", y1 - 18).attr("font-size", 38);
    st.append("tspan").text(p.state[0]);
    st.append("tspan").attr("dx", 1).attr("dy", -12).attr("font-size", 27).text(p.state[2]);
    st.append("tspan").attr("dx", -15).attr("dy", 22).attr("font-size", 27).text(p.state[1]);

    if (k === 0) {
        energyNotes.forEach(n => {
            const t = g.append("text").attr("x", x(n[2])).attr("y", y(n[3]))
                .attr("text-anchor", n[4]).attr("font-size", 21).text(n[0]);
            if (n[1]) {
                t.append("tspan").attr("dy", -9).attr("font-size", 15).text(n[1]);
                t.append("tspan").attr("dy", 9).text(")");
            }
        });
    }
});
</script>
</body>
</html>
